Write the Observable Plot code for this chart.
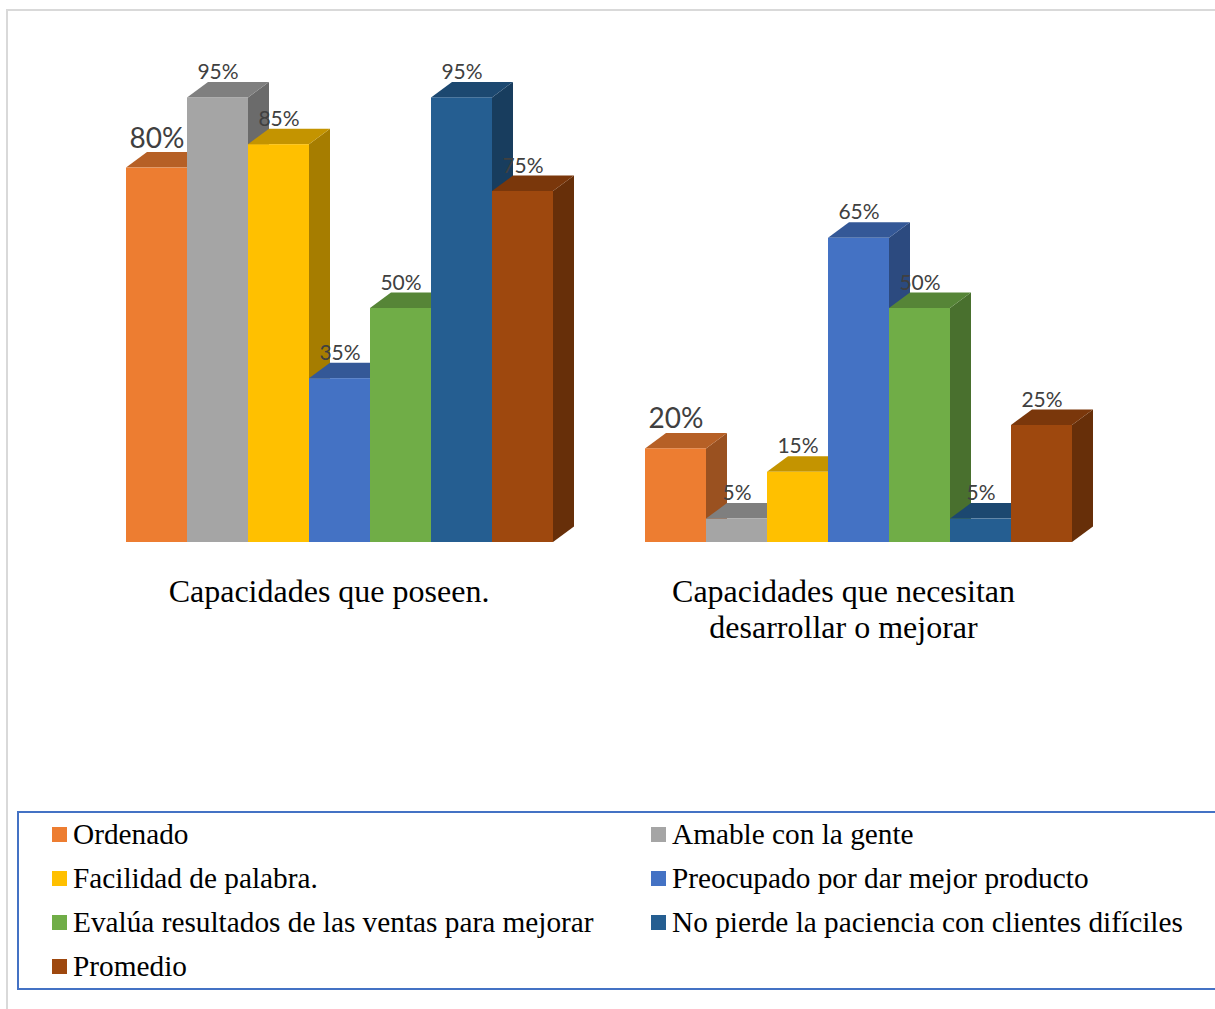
<!DOCTYPE html>
<html lang="es">
<head>
<meta charset="utf-8">
<title>Capacidades</title>
<script src="https://cdn.jsdelivr.net/npm/d3@7"></script>
<script src="https://cdn.jsdelivr.net/npm/@observablehq/plot@0.6"></script>
<style>
  html, body { margin: 0; padding: 0; background: #fff; overflow: hidden; }
  #page { position: relative; width: 1215px; height: 1009px; overflow: hidden; }
  #frame { position: absolute; left: 6px; top: 9px; width: 1400px; height: 1200px; border: 2.5px solid #d9d9d9; box-sizing: border-box; }
  #chart { position: absolute; left: 0; top: 0; }
  #legend { position: absolute; left: 17px; top: 811px; width: 1400px; height: 179px; box-sizing: border-box; border: 2.5px solid #4472c4; background: #fff;
    font-family: "Liberation Serif", serif; font-size: 29.3px; color: #000; }
  .item { position: absolute; display: flex; align-items: center; height: 44px; white-space: nowrap; }
  .swatch { width: 15px; height: 15px; margin-right: 6px; flex: none; }
</style>
</head>
<body>
<div id="page">
  <div id="frame"></div>
  <div id="chart"></div>
  <div id="legend"></div>
</div>
<script>
const groups = ["Capacidades que poseen.", "Capacidades que necesitan\ndesarrollar o mejorar"];
const series = [
  "Ordenado",
  "Amable con la gente",
  "Facilidad de palabra.",
  "Preocupado por dar mejor producto",
  "Evalúa resultados de las ventas para mejorar",
  "No pierde la paciencia con clientes difíciles",
  "Promedio"
];
const poseen = [80, 95, 85, 35, 50, 95, 75];
const necesitan = [20, 5, 15, 65, 50, 5, 25];
const colors = ["#ed7d31", "#a5a5a5", "#ffc000", "#4472c4", "#70ad47", "#255e91", "#9e480e"];

const rows = [
  ...series.map((s, i) => ({group: groups[0], series: s, value: poseen[i]})),
  ...series.map((s, i) => ({group: groups[1], series: s, value: necesitan[i]}))
];

// Extrusion of each column: the top and right faces are sheared by this much.
const depthX = 21;
const depthY = 15.5;

function shade(color, k) {
  const c = d3.rgb(color);
  return d3.rgb(c.r * k, c.g * k, c.b * k).formatHex();
}

// Adds the top and side faces behind each front rectangle, keeping data order
// so that a later column hides the side of the one before it.
function extrude(index, scales, values, dimensions, context, next) {
  const g = next(index, scales, values, dimensions, context);
  for (const rect of [...g.querySelectorAll("rect")]) {
    const x = +rect.getAttribute("x");
    const y = +rect.getAttribute("y");
    const w = +rect.getAttribute("width");
    const h = +rect.getAttribute("height");
    const fill = rect.getAttribute("fill");
    const face = (points, color) => {
      const p = document.createElementNS("http://www.w3.org/2000/svg", "polygon");
      p.setAttribute("points", points.map((q) => q.join(",")).join(" "));
      p.setAttribute("fill", color);
      g.insertBefore(p, rect);
    };
    face([[x + w, y], [x + w + depthX, y - depthY], [x + w + depthX, y + h - depthY], [x + w, y + h]], shade(fill, 0.65));
    face([[x, y], [x + depthX, y - depthY], [x + w + depthX, y - depthY], [x + w, y]], shade(fill, 0.77));
  }
  return g;
}

// The first series carries larger value labels than the others.
const valueLabels = (keep, fontSize, dy) =>
  Plot.text(rows.filter(keep), {
    fx: "group",
    x: "series",
    y: "value",
    text: (d) => `${d.value}%`,
    fontSize,
    lineAnchor: "bottom",
    dy,
    fill: "#404040"
  });

const groupAxis = (group, dx) =>
  Plot.axisFx({
    anchor: "bottom",
    ticks: [group],
    tickSize: 0,
    tickPadding: 33.5,
    dx,
    label: null,
    fontSize: 32,
    lineHeight: 1.125,
    fontFamily: "Liberation Serif, serif",
    fill: "#000",
    textOverflow: null
  });

const chart = Plot.plot({
  width: 1215,
  height: 660,
  marginLeft: 125,
  marginRight: 143,
  marginTop: 74,
  marginBottom: 118,
  style: {background: "transparent", fontFamily: "Lato, sans-serif", overflow: "visible"},
  fx: {domain: groups, padding: 0.1757, label: null},
  x: {domain: series, padding: 0, axis: null},
  y: {domain: [0, 100], axis: null},
  color: {domain: series, range: colors},
  marks: [
    Plot.barY(rows, {fx: "group", x: "series", y: "value", fill: "series", sort: null, render: extrude}),
    valueLabels((d) => d.series !== series[0], 21, -19),
    valueLabels((d) => d.series === series[0], 28, -20.5),
    groupAxis(groups[0], -10.5),
    groupAxis(groups[1], -15)
  ]
});
document.getElementById("chart").append(chart);

// Two-column legend inside the blue box.
const legend = document.getElementById("legend");
series.forEach((s, i) => {
  const item = document.createElement("div");
  item.className = "item";
  item.style.left = (i % 2 ? 632 : 33) + "px";
  item.style.top = -0.8 + Math.floor(i / 2) * 44.2 + "px";
  const swatch = document.createElement("span");
  swatch.className = "swatch";
  swatch.style.background = colors[i];
  const label = document.createElement("span");
  label.textContent = s;
  item.append(swatch, label);
  legend.append(item);
});
</script>
</body>
</html>
